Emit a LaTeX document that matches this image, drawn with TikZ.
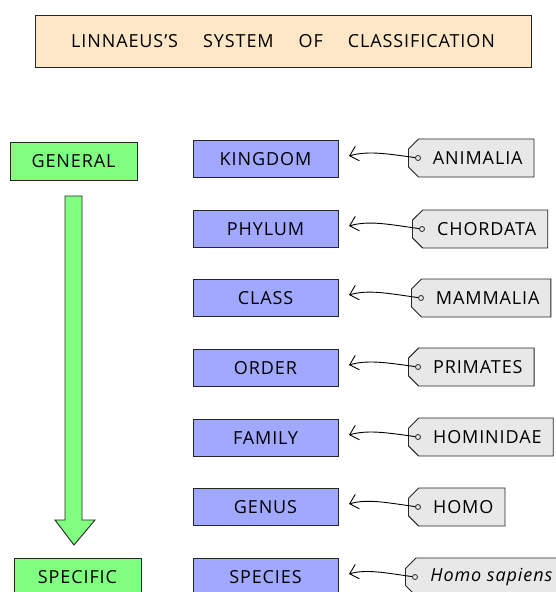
\documentclass[tikz,border=0pt]{standalone}
\usepackage{fontspec}
\setmainfont[LetterSpace=5]{Open Sans}
\usetikzlibrary{arrows.meta,shapes.misc}
\begin{document}
\begin{tikzpicture}[
  x=1pt, y=-1pt,
  box/.style={
    draw=black!85, line width=0.9pt, inner sep=0pt,
    font=\fontsize{18}{20}\selectfont, align=center
  },
  rank/.style={box, fill=Crank, minimum width=145pt, minimum height=37pt},
  endbox/.style={box, fill=Cend, minimum width=127pt, minimum height=38pt},
  tag/.style={
    chamfered rectangle, chamfered rectangle corners={north west,south west},
    chamfered rectangle xsep=7pt, draw=black!85, line width=0.9pt, fill=Ctag,
    minimum height=38pt, inner xsep=5pt, inner ysep=0pt, anchor=west,
    font=\fontsize{18}{20}\selectfont, execute at begin node=\hspace*{13pt}
  },
  hole/.style={circle, draw=black!85, line width=0.8pt, fill=Ctag,
    minimum size=5pt, inner sep=0pt},
  link/.style={line width=0.9pt, -{Straight Barb[length=8pt,width=15pt]},
    shorten >=11pt}
]
\definecolor{Ctitle}{RGB}{253,231,199}
\definecolor{Cend}{RGB}{128,255,128}
\definecolor{Crank}{RGB}{160,168,255}
\definecolor{Ctag}{RGB}{232,232,232}
\def\rx{265.5}
\def\gap{\hspace{25pt}}
\useasboundingbox (0,0) rectangle (556,592);
%% TITLE
\node[box,fill=Ctitle,minimum width=496pt,minimum height=52pt] (title) at (283,41)
  {LINNAEUS’S\gap SYSTEM\gap OF\gap CLASSIFICATION};
%% GENERAL TO SPECIFIC
\node[endbox] (gen)  at (73.5,161) {GENERAL};
\node[endbox] (spec) at (77.5,577) {SPECIFIC};
\draw[draw=black!85, line width=0.9pt, fill=Cend]
  (65,196) -- (82,196) -- (82,520) -- (95,520) -- (74,545) -- (55,520) -- (65,520) -- cycle;
%% RANKS
\node[rank] (b1) at (\rx,159) {KINGDOM};
\node[rank] (b2) at (\rx,229) {PHYLUM};
\node[rank] (b3) at (\rx,298) {CLASS};
\node[rank] (b4) at (\rx,368) {ORDER};
\node[rank] (b5) at (\rx,438) {FAMILY};
\node[rank] (b6) at (\rx,507) {GENUS};
\node[rank] (b7) at (\rx,577) {SPECIES};
%% TAGS
\node[tag] (t1) at (408,158) {ANIMALIA};
\node[tag] (t2) at (412,229) {CHORDATA};
\node[tag] (t3) at (411,298) {MAMMALIA};
\node[tag] (t4) at (408,367) {PRIMATES};
\node[tag] (t5) at (408,437) {HOMINIDAE};
\node[tag] (t6) at (408,507) {HOMO};
\node[tag] (t7) at (405,577) {\itshape Homo sapiens};
%% HOLES AND STRINGS
\foreach \i in {1,...,7}{
  \node[hole] (h\i) at ([xshift=10pt]t\i.west) {};
  \draw[link] (h\i) to[out=172,in=16] (b\i.east);
}
\end{tikzpicture}
\end{document}
